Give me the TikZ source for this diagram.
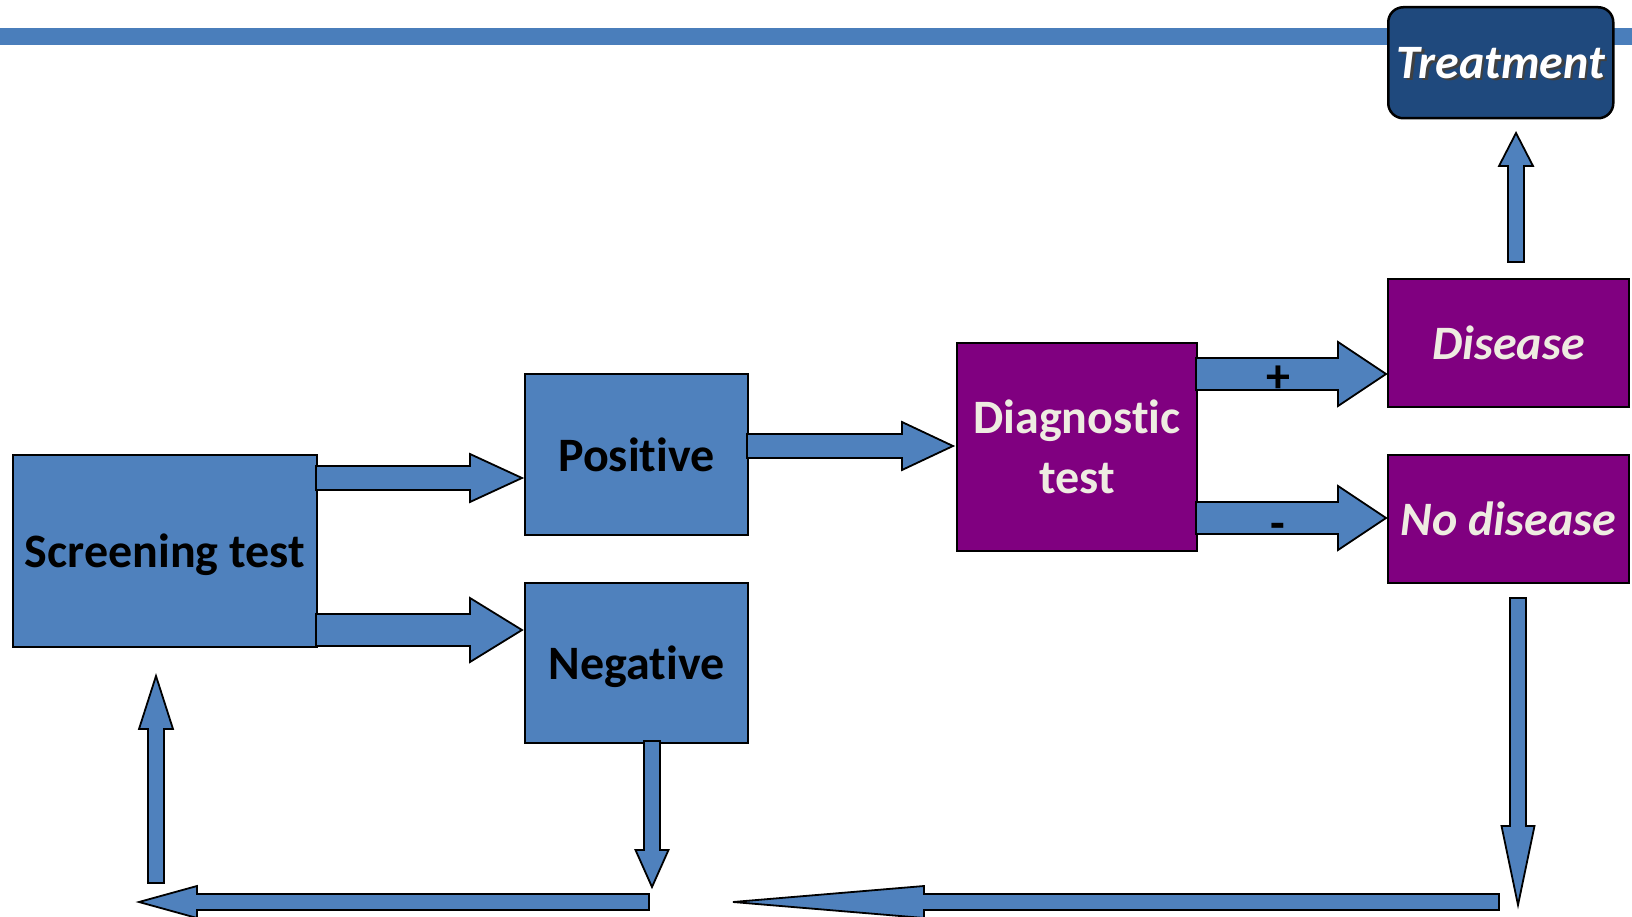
\documentclass[tikz,border=0pt]{standalone}
\usepackage{fontspec}
\setmainfont{Carlito}[Ligatures=NoCommon]
\usetikzlibrary{calc}

\definecolor{boxblue}{HTML}{4F81BD}
\definecolor{barblue}{HTML}{4A7EBB}
\definecolor{boxpurple}{HTML}{800080}
\definecolor{navy}{HTML}{1F497D}
\definecolor{cream}{HTML}{EEECE1}

% block arrow: #1 tail, #2 tip, #3 shaft half width, #4 head half width, #5 head length
\newcommand\blockarrow[5]{%
  \path ($(#2)!#5!(#1)$) coordinate (ba-base);
  \draw[blockarr] ($(#1)!#3!90:(#2)$) -- ($(ba-base)!#3!90:(#2)$)
    -- ($(ba-base)!#4!90:(#2)$) -- (#2) -- ($(ba-base)!#4!-90:(#2)$)
    -- ($(ba-base)!#3!-90:(#2)$) -- ($(#1)!#3!-90:(#2)$) -- cycle;
}
% white text with a soft dark drop shadow
\newcommand\shadowtext[1]{\makebox[0pt][l]{\hspace{2.5pt}\raisebox{-2.5pt}{\color{black!75}#1}}#1}

\tikzset{
  box/.style={draw=black, line width=2pt, inner sep=0pt, anchor=north west, align=center},
  bluebox/.style={box, fill=boxblue, text=black, text depth=0pt, font=\fontsize{48}{55}\selectfont\bfseries},
  purplebox/.style={box, fill=boxpurple, text=cream, font=\fontsize{48}{60}\selectfont\bfseries},
  blockarr/.style={draw=black, line width=1.8pt, fill=boxblue, line join=miter},
  signlabel/.style={font=\fontsize{48}{48}\selectfont\bfseries, text=black, inner sep=0pt}
}

\begin{document}
\begin{tikzpicture}[x=1pt, y=-1pt]
\useasboundingbox (0,0) rectangle (1632,917);

% header rule
\fill[barblue] (0,28) rectangle (1632,45);

% boxes
\node[bluebox, minimum width=304pt, minimum height=192pt] (scr) at (12,454) {Screening test};
\node[bluebox, minimum width=223pt, minimum height=161pt] (pos) at (524,373) {Positive};
\node[bluebox, minimum width=223pt, minimum height=160pt] (neg) at (524,582) {Negative};
\node[purplebox, minimum width=240pt, minimum height=208pt] (diag) at (956,342) {Diagnostic\\test};
\node[purplebox, minimum width=241pt, minimum height=128pt, font=\fontsize{48}{60}\selectfont\bfseries\itshape] (dis) at (1387,278) {Disease};
\node[purplebox, minimum width=241pt, minimum height=128pt, font=\fontsize{48}{60}\selectfont\bfseries\itshape] (nodis) at (1387,454) {No disease};
\node[box, fill=navy, rounded corners=15pt, line width=2.5pt, minimum width=225pt, minimum height=111pt,
      text=white, text depth=0pt, font=\fontsize{48}{50}\selectfont\bfseries\itshape] (treat) at (1387,6) {\shadowtext{Treatment}};

% arrow end points
\coordinate (a1s) at (316,478);  \coordinate (a1e) at (522,478);
\coordinate (a2s) at (316,630);  \coordinate (a2e) at (522,630);
\coordinate (a3s) at (747,446);  \coordinate (a3e) at (953,446);
\coordinate (a4s) at (1196,374); \coordinate (a4e) at (1386,374);
\coordinate (a5s) at (1196,518); \coordinate (a5e) at (1386,518);
\coordinate (a6s) at (1516,262); \coordinate (a6e) at (1516,133);
\coordinate (a7s) at (1518,598); \coordinate (a7e) at (1518,905);
\coordinate (a8s) at (1499,902); \coordinate (a8e) at (733,902);
\coordinate (a9s) at (652,741);  \coordinate (a9e) at (652,887);
\coordinate (a10s) at (649,902); \coordinate (a10e) at (139,902);
\coordinate (a11s) at (156,883); \coordinate (a11e) at (156,676);

% arrows
\blockarrow{a1s}{a1e}{12pt}{24pt}{52pt}
\blockarrow{a2s}{a2e}{16pt}{32pt}{52pt}
\blockarrow{a3s}{a3e}{12pt}{24pt}{51pt}
\blockarrow{a4s}{a4e}{16pt}{32pt}{48pt}
\blockarrow{a5s}{a5e}{16pt}{32pt}{48pt}
\blockarrow{a6s}{a6e}{8pt}{17pt}{33pt}
\blockarrow{a7s}{a7e}{8pt}{16.5pt}{79pt}
\blockarrow{a8s}{a8e}{8pt}{16pt}{191pt}
\blockarrow{a9s}{a9e}{8pt}{16.5pt}{37pt}
\blockarrow{a10s}{a10e}{8pt}{16pt}{58pt}
\blockarrow{a11s}{a11e}{8pt}{17pt}{53pt}

% test outcome signs
\node[signlabel] (plus) at (1278,379) {+};
\node[signlabel] (minus) at (1278,531) {-};
\end{tikzpicture}
\end{document}
